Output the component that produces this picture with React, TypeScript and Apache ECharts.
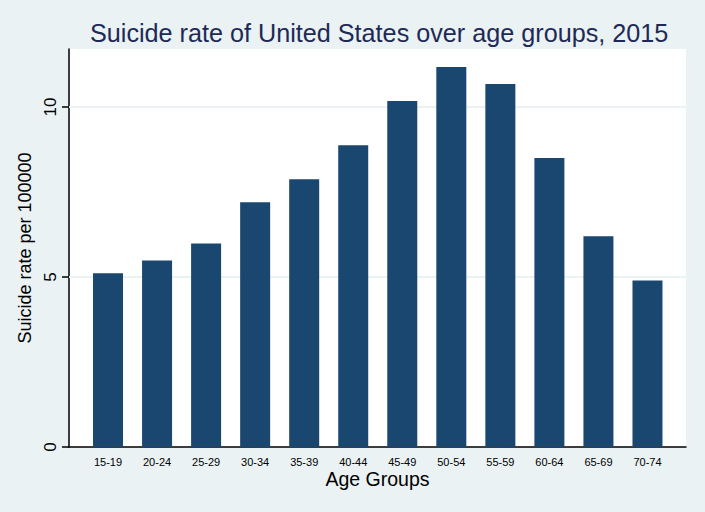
import React, { useEffect, useRef } from "react";
import * as echarts from "echarts";

const categories = ["15-19", "20-24", "25-29", "30-34", "35-39", "40-44", "45-49", "50-54", "55-59", "60-64", "65-69", "70-74"];
const rates = [5.11, 5.49, 5.99, 7.2, 7.88, 8.88, 10.18, 11.18, 10.68, 8.5, 6.2, 4.9];
const yTicks = [0, 5, 10];
const gridValues = [5, 10];
const yMax = 11.71;

const BG = "#EAF2F3";
const BAR = "#1A476F";
const FONT = "Liberation Sans, Arial, sans-serif";

export default function App() {
  const ref = useRef<HTMLDivElement>(null);
  useEffect(() => {
    if (!ref.current) return;
    const chart = echarts.init(ref.current, undefined, { renderer: "svg" });
    const top = 49;
    const bottom = 512 - 447;
    const gridLineSeries = gridValues.map((v) => ({
      type: "line",
      xAxisIndex: 0,
      yAxisIndex: 0,
      data: [[0, v], [1, v]],
      symbol: "none",
      silent: true,
      z: 1,
      lineStyle: { color: BG, width: 2 },
    }));
    chart.setOption({
      animation: false,
      backgroundColor: BG,
      textStyle: { fontFamily: FONT },
      title: {
        text: "Suicide rate of United States over age groups, 2015",
        left: 90,
        top: 20,
        padding: 0,
        textStyle: { fontFamily: FONT, fontSize: 25.2, fontWeight: "normal", color: "#1E2A55" },
      },
      grid: [
        { left: 69, right: 19, top, bottom, show: true, backgroundColor: "#FFFFFF", borderWidth: 0 },
        { left: 83.5, right: 33, top, bottom, show: false },
      ],
      xAxis: [
        {
          type: "value", gridIndex: 0, min: 0, max: 1,
          axisLine: { show: true, onZero: false, lineStyle: { color: "#000", width: 1.5 } },
          axisTick: { show: false }, axisLabel: { show: false }, splitLine: { show: false },
          name: "Age Groups", nameLocation: "middle", nameGap: 22,
          nameTextStyle: { fontFamily: FONT, fontSize: 19.5, color: "#000" },
        },
        {
          type: "category", gridIndex: 1, data: categories,
          axisLine: { show: false }, axisTick: { show: false }, splitLine: { show: false },
          axisLabel: { fontFamily: FONT, fontSize: 11, color: "#000", margin: 9, interval: 0 },
        },
      ],
      yAxis: [
        {
          type: "value", gridIndex: 0, min: 0, max: yMax, interval: 5,
          axisLine: { show: true, lineStyle: { color: "#000", width: 1.5 } },
          axisTick: { show: true, length: 7, customValues: yTicks, lineStyle: { color: "#000", width: 1.5 } },
          axisLabel: {
            customValues: yTicks, rotate: 90, fontFamily: FONT, fontSize: 17, color: "#000", margin: 10,
            formatter: (v: number) => (yTicks.indexOf(v) >= 0 ? String(v) : ""),
          },
          splitLine: { show: false },
          name: "Suicide rate per 100000", nameLocation: "middle", nameGap: 32, nameRotate: 90,
          nameTextStyle: { fontFamily: FONT, fontSize: 18, color: "#000" },
        },
        {
          type: "value", gridIndex: 1, min: 0, max: yMax, show: false,
        },
      ],
      series: [
        ...gridLineSeries,
        {
          type: "bar",
          xAxisIndex: 1,
          yAxisIndex: 1,
          data: rates,
          barWidth: 30,
          z: 3,
          itemStyle: { color: BAR },
        },
      ],
    });
    return () => chart.dispose();
  }, []);
  return <div ref={ref} style={{ position: "fixed", left: 0, top: 0, width: 705, height: 512 }} />;
}
